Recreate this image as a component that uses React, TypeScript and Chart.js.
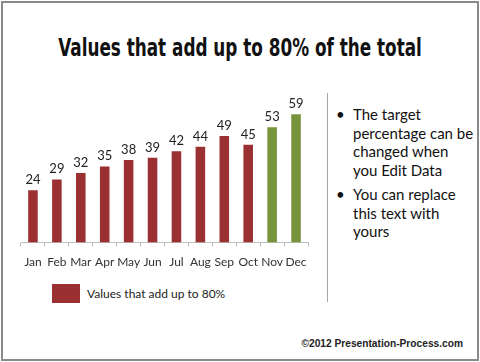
import React, { useEffect, useRef } from "react";
import { Chart, registerables } from "chart.js";

Chart.register(...registerables);

const categories = ["Jan", "Feb", "Mar", "Apr", "May", "Jun", "Jul", "Aug", "Sep", "Oct", "Nov", "Dec"];
const values = [24, 29, 32, 35, 38, 39, 42, 44, 49, 45, 53, 59];
const inTarget = [true, true, true, true, true, true, true, true, true, true, false, false];
const titleText = "Values that add up to 80% of the total";
const legendText = "Values that add up to 80%";
const bullets = ["The target percentage can be changed when you Edit Data", "You can replace this text with yours"];
const footerText = "\u00a92012 Presentation-Process.com";

const RED = "#9b3033";
const GREEN = "#77933c";
const LABEL_FONT = "Lato, 'Open Sans', sans-serif";

const valueLabels = {
  id: "valueLabels",
  afterDatasetsDraw(chart: any) {
    const ctx = chart.ctx;
    const meta = chart.getDatasetMeta(0);
    ctx.save();
    ctx.font = "13px " + LABEL_FONT;
    ctx.fillStyle = "#222";
    ctx.textAlign = "center";
    ctx.textBaseline = "alphabetic";
    meta.data.forEach((bar: any, i: number) => {
      ctx.fillText(String(values[i]), bar.x, bar.y - 6);
    });
    ctx.restore();
  },
};

export default function App() {
  const ref = useRef<HTMLCanvasElement | null>(null);
  useEffect(() => {
    if (!ref.current) return;
    const chart = new Chart(ref.current, {
      type: "bar",
      data: {
        labels: categories,
        datasets: [
          {
            label: legendText,
            data: values,
            backgroundColor: inTarget.map((t) => (t ? RED : GREEN)),
            categoryPercentage: 1,
            barPercentage: 0.4,
          },
        ],
      },
      options: {
        responsive: false,
        animation: false,
        layout: { padding: { top: 112, left: 21, right: 22, bottom: 3 } },
        plugins: { legend: { display: false }, tooltip: { enabled: false }, title: { display: false } },
        scales: {
          x: {
            grid: { display: true, offset: true, drawOnChartArea: false, tickLength: 4, color: "#bfbfbf" },
            border: { display: true, color: "#bfbfbf" },
            ticks: {
              color: "#333",
              padding: 8,
              maxRotation: 0,
              minRotation: 0,
              autoSkip: false,
              font: { size: 12, family: LABEL_FONT },
            },
          },
          y: { display: false, min: 0, max: 60 },
        },
      },
      plugins: [valueLabels],
    });
    return () => chart.destroy();
  }, []);

  return (
    <div style={{ position: "absolute", left: 0, top: 0, width: 480, height: 362, background: "#fff", overflow: "hidden" }}>
      <div style={{ position: "absolute", left: 1, top: 1, width: 474, height: 356, border: "2px solid #8a8a8a" }} />
      <div
        style={{
          position: "absolute",
          left: 0,
          top: 31,
          width: 480,
          display: "flex",
          justifyContent: "center",
        }}
      >
        <span
          style={{
            display: "inline-block",
            whiteSpace: "nowrap",
            fontFamily: "'DejaVu Sans', sans-serif",
            fontStretch: "condensed",
            fontWeight: "bold",
            fontSize: 24,
            lineHeight: "34px",
            color: "#111",
            transform: "scaleX(0.78)",
            transformOrigin: "50% 50%",
          }}
        >
          {titleText}
        </span>
      </div>
      <canvas ref={ref} width={330} height={280} style={{ position: "absolute", left: 0, top: 0, width: 330, height: 280 }} />
      <div style={{ position: "absolute", left: 52, top: 284, width: 28, height: 19, background: RED }} />
      <div style={{ position: "absolute", left: 87, top: 285, fontFamily: LABEL_FONT, fontSize: 12, lineHeight: "17px", color: "#222" }}>
        {legendText}
      </div>
      <div style={{ position: "absolute", left: 327, top: 93, width: 1, height: 209, background: "#a6a6a6" }} />
      <div style={{ position: "absolute", left: 336, top: 105, width: 140, fontFamily: LABEL_FONT, fontSize: 15, lineHeight: "18.5px", color: "#111" }}>
        {bullets.map((b, i) => (
          <div key={i} style={{ position: "relative", paddingLeft: 17, marginBottom: 6 }}>
            <span style={{ position: "absolute", left: 0, top: 0 }}>{"\u2022"}</span>
            {b}
          </div>
        ))}
      </div>
      <div
        style={{
          position: "absolute",
          right: 17,
          top: 337,
          fontFamily: "'Liberation Sans', Arial, sans-serif",
          fontWeight: "bold",
          fontSize: 10.2,
          lineHeight: "13px",
          color: "#222",
        }}
      >
        {footerText}
      </div>
    </div>
  );
}
